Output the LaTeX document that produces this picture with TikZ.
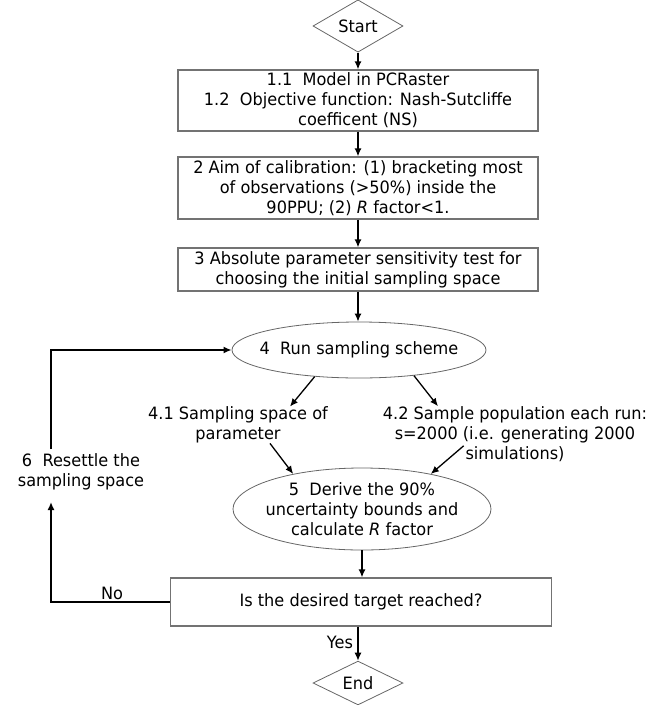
\documentclass[tikz,border=0pt]{standalone}
\usepackage{fontspec}
\setmainfont{DejaVu Sans}[FakeStretch=0.95]
\usetikzlibrary{shapes.geometric,arrows.meta}

\tikzset{
	stepbox/.style={draw=black!55, line width=1.3pt, align=center, inner sep=0pt},
	oval/.style={ellipse, draw=black!60, line width=0.8pt, align=center, inner xsep=-30pt, inner ysep=-4pt},
	gate/.style={diamond, draw=black!60, line width=0.8pt, inner sep=0pt, minimum width=90pt, minimum height=42pt},
	label/.style={align=center, inner sep=0pt},
	arr/.style={-{Latex[length=8pt,width=7pt]}, line width=1.3pt},
	loop/.style={arr, line width=1.8pt}
}

\begin{document}
\begin{tikzpicture}[x=1pt, y=-1pt, font=\fontsize{17}{20}\selectfont]
	\useasboundingbox (0,0) rectangle (663,705);
	% Start und Eingangsschritte
	\node[gate] (start) at (358,26) {Start};
	\node[stepbox, minimum width=360pt, minimum height=61pt] (model) at (358,100.5)
		{1.1\ \ Model in PCRaster\\1.2\ \ Objective function: Nash-Sutcliffe\\coefficent (NS)};
	\node[stepbox, minimum width=360pt, minimum height=62pt] (aim) at (358,188)
		{2 Aim of calibration: (1) bracketing most\\of observations (>50\%) inside the\\90PPU; (2) \textit{R} factor<1.};
	\node[stepbox, minimum width=360pt, minimum height=43pt] (sens) at (358,269.5)
		{3 Absolute parameter sensitivity test for\\choosing the initial sampling space};
	% Sampling
	\node[oval, minimum width=254pt, minimum height=56pt] (run) at (359,350) {4\ \ Run sampling scheme};
	\node[label] (space) at (238,425) {4.1 Sampling space of\\parameter};
	\node[label] (pop) at (515,434) {4.2 Sample population each run:\\s=2000 (i.e. generating 2000\\simulations)};
	\node[oval, minimum width=258pt, minimum height=82pt] (derive) at (362,509)
		{5\ \ Derive the 90\%\\uncertainty bounds and\\calculate \textit{R} factor};
	% Abfrage und Ende
	\node[stepbox, minimum width=381pt, minimum height=48pt] (check) at (361,602) {Is the desired target reached?};
	\node[gate] (end) at (358,683) {End};
	\node[label] (resettle) at (81,472) {6\ \ Resettle the\\sampling space};
	\node[label] (no) at (112,593) {No};
	\node[label] (yes) at (340,642) {Yes};
	\coordinate (loopdn) at (51,502);
	\coordinate (loopup) at (51,449);

	% Pfeile
	\draw[arr] (start) -- (model);
	\draw[arr] (model) -- (aim);
	\draw[arr] (aim) -- (sens);
	\draw[arr] (sens) -- (sens |- run.north);
	\draw[arr] (run.211) -- ([xshift=52pt]space.north);
	\draw[arr] (run.335) -- ([xshift=-77pt]pop.north);
	\draw[arr] ([xshift=32pt]space.south) -- (derive.153);
	\draw[arr] ([shift={(81pt,16pt)}]pop.south west) -- (derive.27);
	\draw[arr] (derive.south) -- (derive.south |- check.north);
	\draw[arr] (end.north |- check.south) -- (end.north);
	\draw[loop] (check.west) -| (loopdn);
	\draw[loop] (loopup) |- (run.west);
\end{tikzpicture}
\end{document}
